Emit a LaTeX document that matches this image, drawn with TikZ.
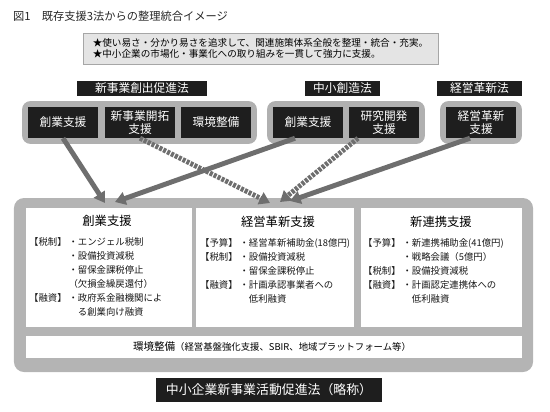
\documentclass[tikz,border=0pt]{standalone}
\usepackage{fontspec}
\setmainfont{Noto Sans CJK JP}
\usetikzlibrary{arrows.meta,calc,fit,backgrounds}

\definecolor{preto}{HTML}{1E1E1E}
\definecolor{cinzaGrupo}{HTML}{B0B0B0}
\definecolor{cinzaMoldura}{HTML}{B4B4B4}
\definecolor{cinzaSeta}{HTML}{6E6E6E}
\definecolor{cinzaClaro}{HTML}{E4E4E4}
\definecolor{cinzaBorda}{HTML}{A6A6A6}

\newcommand{\rotulo}[1]{\makebox[4.2em][l]{#1}}

\begin{document}
\begin{tikzpicture}[x=0.03cm, y=-0.03cm]
\tikzset{
    seta/.style={-{Triangle[length=9pt, width=11pt]}, line width=4.2pt, draw=cinzaSeta},
    setaTracejada/.style={seta, dash pattern=on 2.6pt off 1.1pt},
    lei/.style={fill=preto, text=white, inner sep=0pt, minimum height=0.45cm,
                font=\fontsize{10}{12}\selectfont},
    caixa/.style={fill=preto, text=white, inner sep=1pt, minimum width=2.1cm,
                  minimum height=0.93cm, align=center, font=\fontsize{10}{11}\selectfont},
    grupo/.style={fill=cinzaGrupo, rounded corners=0.25cm, inner sep=0.17cm},
    painel/.style={fill=white, inner sep=0pt, minimum height=3.57cm},
    tituloPainel/.style={font=\fontsize{10.5}{12}\selectfont},
    itens/.style={anchor=north west, align=left, inner sep=0pt, text=black!90,
                  font=\fontsize{8}{12}\selectfont}
}
\useasboundingbox (0,0) rectangle (550,411);

% Título e aviso
\node[anchor=west, inner sep=0pt, text=black!85, font=\fontsize{9.6}{12}\selectfont]
    (titulo) at (13,16) {図1　既存支援3法からの整理統合イメージ};
\node[draw=cinzaBorda, fill=cinzaClaro, line width=0.8pt, minimum width=10.65cm,
      minimum height=0.93cm, align=left, font=\fontsize{8.2}{10}\selectfont]
    (aviso) at (260.5,48.5) {★使い易さ・分かり易さを追求して、関連施策体系全般を整理・統合・充実。\\
                           ★中小企業の市場化・事業化への取り組みを一貫して強力に支援。};

% Leis
\node[lei, minimum width=3.9cm]  (leiCriacao)  at (142,88.5)   {新事業創出促進法};
\node[lei, minimum width=2.25cm] (leiCriativa) at (342.5,88.5) {中小創造法};
\node[lei, minimum width=2.55cm] (leiInovacao) at (479.5,88.5) {経営革新法};

% Caixas das leis
\node[caixa] (criaA)    at (63,122.5)  {創業支援};
\node[caixa] (pioneiro) at (140,122.5) {新事業開拓\\支援};
\node[caixa] (ambiente) at (216,122.5) {環境整備};
\node[caixa] (criaB)    at (308,122.5) {創業支援};
\node[caixa] (pesquisa) at (384,122.5) {研究開発\\支援};
\node[caixa] (inovacao) at (481,122.5) {経営革新\\支援};

\begin{scope}[on background layer]
\node[grupo, fit=(criaA)(ambiente)] (grupoCriacao)  {};
\node[grupo, fit=(criaB)(pesquisa)] (grupoCriativa) {};
\node[grupo, fit=(inovacao)]        (grupoInovacao) {};
\end{scope}

% Moldura e painéis
\node[fill=cinzaMoldura, rounded corners=0.3cm, inner sep=0pt, minimum width=15.57cm,
      minimum height=5.22cm] (moldura) at (273.5,285) {};
\node[painel, minimum width=4.98cm] (pCriacao)  at (109,267.5)   {};
\node[painel, minimum width=4.74cm] (pInovacao) at (275,267.5)   {};
\node[painel, minimum width=4.83cm] (pParceria) at (441.5,267.5) {};
\node[painel, minimum width=14.88cm, minimum height=0.66cm] (pAmbiente) at (274,347) {};

% Textos dos painéis
\node[tituloPainel] (tCriacao)  at (107,221) {創業支援};
\node[tituloPainel] (tInovacao) at (278,222) {経営革新支援};
\node[tituloPainel] (tParceria) at (441,222) {新連携支援};

\node[itens] (iCriacao) at (29,237) {\rotulo{【税制】}・エンジェル税制\\
    \rotulo{}・設備投資減税\\
    \rotulo{}・留保金課税停止\\
    \rotulo{}（欠損金繰戻還付）\\
    \rotulo{【融資】}・政府系金融機関によ\\
    \rotulo{}\hspace{1em}る創業向け融資};
\node[itens] (iInovacao) at (200,238) {\rotulo{【予算】}・経営革新補助金(18億円)\\
    \rotulo{【税制】}・設備投資減税\\
    \rotulo{}・留保金課税停止\\
    \rotulo{【融資】}・計画承認事業者への\\
    \rotulo{}\hspace{1em}低利融資};
\node[itens] (iParceria) at (363,238) {\rotulo{【予算】}・新連携補助金(41億円)\\
    \rotulo{}・戦略会議（5億円）\\
    \rotulo{【税制】}・設備投資減税\\
    \rotulo{【融資】}・計画認定連携体への\\
    \rotulo{}\hspace{1em}低利融資};

\node (tAmbiente) at (272,346.5) {{\fontsize{9}{10}\selectfont 環境整備}%
    {\fontsize{8}{10}\selectfont （経営基盤強化支援、SBIR、地域プラットフォーム等）}};

% Lei resultante
\node[lei, minimum width=6.78cm, minimum height=0.72cm, font=\fontsize{11}{13}\selectfont]
    (leiNova) at (269,390) {中小企業新事業活動促進法（略称）};

% Setas
\coordinate (pontaA) at (105,203);
\coordinate (pontaB) at (115,202);
\coordinate (pontaC) at (270,203);
\coordinate (pontaD) at (280,202);
\coordinate (pontaE) at (290,201);
\draw[seta]          (criaA.south) -- (pontaA);
\draw[seta]          ($(criaB.south)+(-13,0)$) -- (pontaB);
\draw[setaTracejada] (pioneiro.south) -- (pontaC);
\draw[setaTracejada] ($(pesquisa.south)+(-26,0)$) -- (pontaD);
\draw[seta]          ($(inovacao.south)+(-11,0)$) -- (pontaE);
\end{tikzpicture}
\end{document}
